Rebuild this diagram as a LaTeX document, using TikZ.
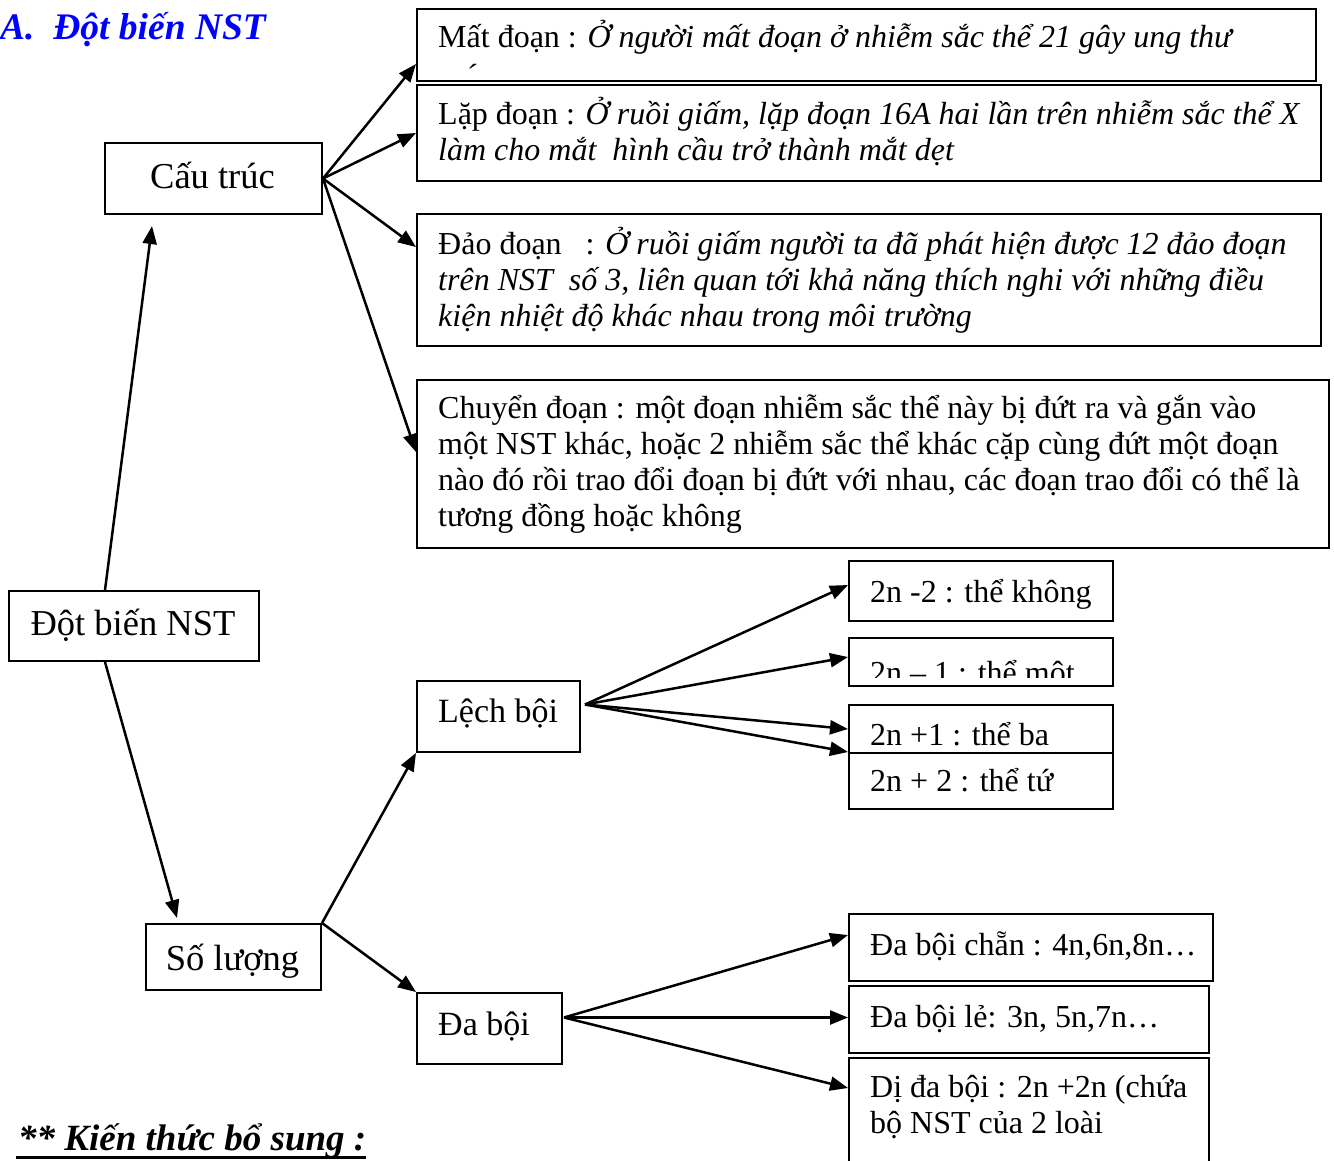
\documentclass[tikz,border=0pt]{standalone}
\usepackage{fontspec}
\setmainfont{Liberation Serif}
\usetikzlibrary{arrows.meta,calc}
\definecolor{titleblue}{RGB}{0,0,255}
\begin{document}
\begin{tikzpicture}[x=1pt,y=-1pt,
  box/.style={draw,line width=2pt,rectangle,inner sep=0pt,anchor=north west},
  txt/.style={inner sep=0pt,anchor=base west,font=\fontsize{32}{36.3}\selectfont},
  mid/.style={inner sep=0pt,anchor=base west,font=\fontsize{34}{36.3}\selectfont},
  big/.style={inner sep=0pt,anchor=base,font=\fontsize{36.5}{40}\selectfont},
  heading/.style={inner sep=0pt,anchor=base west,font=\fontsize{37}{40}\selectfont\bfseries\itshape},
  arr/.style={line width=2.5pt,-{Triangle[length=18pt,width=14pt]}}
]
\useasboundingbox (0,0) rectangle (1334,1160);

% ---------- boxes ----------
\node[box,minimum width=250pt,minimum height=70pt] (dbn) at (8,590) {};
\node[box,minimum width=217pt,minimum height=71pt] (ct) at (104,142) {};
\node[box,minimum width=175pt,minimum height=66pt] (sl) at (145,923) {};
\node[box,minimum width=163pt,minimum height=71pt] (lb) at (416,680) {};
\node[box,minimum width=145pt,minimum height=71pt] (db) at (416,992) {};
\node[box,minimum width=899pt,minimum height=72pt] (mat) at (416,8) {};
\node[box,minimum width=904pt,minimum height=96pt] (lap) at (416,84) {};
\node[box,minimum width=904pt,minimum height=132pt] (dao) at (416,213) {};
\node[box,minimum width=912pt,minimum height=168pt] (chuyen) at (416,379) {};
\node[box,minimum width=264pt,minimum height=60pt] (k0) at (848,560) {};
\node[box,minimum width=264pt,minimum height=48pt] (k1) at (848,637) {};
\node[box,minimum width=264pt,minimum height=48pt] (k3) at (848,704) {};
\node[box,minimum width=264pt,minimum height=56pt] (k4) at (848,752) {};
\node[box,minimum width=364pt,minimum height=67pt] (dc) at (848,913) {};
\node[box,minimum width=360pt,minimum height=67pt] (dl) at (848,985) {};
\node[box,minimum width=360pt,minimum height=130pt] (dd) at (848,1057) {};

% ---------- texts ----------
\node[heading,text=titleblue,font=\fontsize{37.5}{40}\selectfont\bfseries\itshape] (title) at (0,39) {A.~~Đột biến NST};
\node[big] (dbnT) at (133,635) {Đột biến NST};
\node[big] (ctT) at (212.5,188) {Cấu trúc};
\node[big] (slT) at (232.5,970) {Số lượng};
\node[mid] (lbT) at (438,722) {Lệch bội};
\node[mid] (dbT) at (438,1035) {Đa bội};

\node[txt] (matT) at (438,47) {Mất đoạn : \textit{Ở người mất đoạn ở nhiễm sắc thể 21 gây ung thư}};
\begin{scope}
\clip (418,10) rectangle (1313,70);
\node[txt] (matT2) at (438,86) {\textit{máu}};
\end{scope}
\node[txt] (lapT) at (438,124) {\parbox[t]{880pt}{\raggedright Lặp đoạn : \textit{Ở ruồi giấm, lặp đoạn 16A hai lần trên nhiễm sắc thể X}\\
\textit{làm cho mắt~ hình cầu trở thành mắt dẹt}}};
\node[txt] (daoT) at (438,254) {\parbox[t]{880pt}{\raggedright Đảo đoạn~~~: \textit{Ở ruồi giấm người ta đã phát hiện được 12 đảo đoạn}\\
\textit{trên NST~ số 3, liên quan tới khả năng thích nghi với những điều}\\
\textit{kiện nhiệt độ khác nhau trong môi trường}}};
\node[txt] (chuyenT) at (438,418) {\parbox[t]{890pt}{\raggedright Chuyển đoạn : một đoạn nhiễm sắc thể này bị đứt ra và gắn vào\\
một NST khác, hoặc 2 nhiễm sắc thể khác cặp cùng đứt một đoạn\\
nào đó rồi trao đổi đoạn bị đứt với nhau, các đoạn trao đổi có thể là\\
tương đồng hoặc không}};

\node[txt] (k0T) at (870,602) {2n -2 : thể không};
\begin{scope}
\clip (850,639) rectangle (1110,677);
\node[txt] (k1T) at (870,683) {2n – 1 : thể một};
\end{scope}
\node[txt] (k3T) at (870,745) {2n +1 : thể ba};
\node[txt] (k4T) at (870,791) {2n + 2 : thể tứ};
\node[txt] (dcT) at (870,955) {Đa bội chẵn : 4n,6n,8n…};
\node[txt] (dlT) at (870,1027) {Đa bội lẻ: 3n, 5n,7n…};
\node[txt] (ddT) at (870,1097) {\parbox[t]{330pt}{\raggedright Dị đa bội : 2n +2n (chứa\\bộ NST của 2 loài}};

\node[heading] (kt) at (18,1150) {** Kiến thức bổ sung :};
\draw[line width=3pt] ($(kt.base west)+(-2,7.5)$) -- ($(kt.base east)+(0,7.5)$);

% ---------- connectors ----------
\draw[arr] ($(dbn.north west)+(97,0)$) -- ($(ct.south west)+(48,11)$);
\draw[arr] ($(dbn.south west)+(97,0)$) -- ($(sl.north west)+(32,-5)$);

\draw[arr] (ct.east) -- ($(mat.south west)+(0,-18)$);
\draw[arr] (ct.east) -- (lap.west);
\draw[arr] (ct.east) -- ($(dao.north west)+(0,34)$);
\draw[arr] (ct.east) -- ($(chuyen.north west)+(0,73)$);

\draw[arr] (sl.north east) -- (lb.south west);
\draw[arr] (sl.north east) -- (db.north west);

\coordinate (lbo) at ($(lb.east)+(4,-12)$);
\draw[arr] (lbo) -- ($(k0.west)+(0,-6)$);
\draw[arr] (lbo) -- ($(k1.west)+(0,-5)$);
\draw[arr] (lbo) -- (k3.west);
\draw[arr] (lbo) -- (k4.north west);

\coordinate (dbo) at ($(db.east)+(1,-11)$);
\draw[arr] (dbo) -- ($(dc.north west)+(0,22)$);
\draw[arr] (dbo) -- ($(dl.west)+(0,-2)$);
\draw[arr] (dbo) -- ($(dd.north west)+(0,31)$);
\end{tikzpicture}
\end{document}
